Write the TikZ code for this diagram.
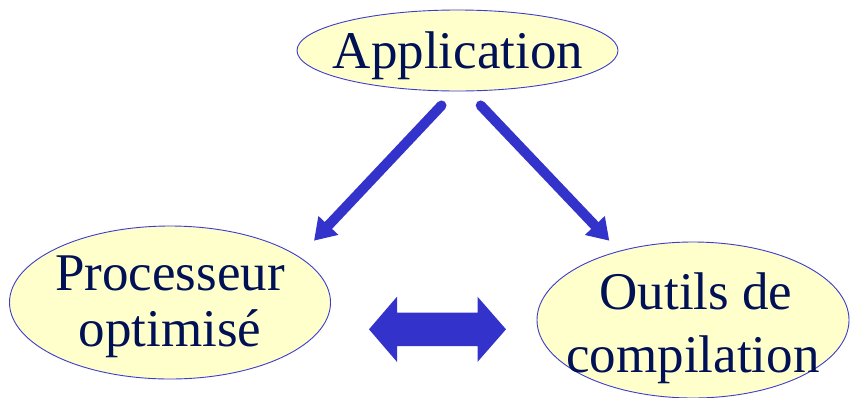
\documentclass[tikz,border=0pt]{standalone}
\usepackage{fontspec}
\setmainfont{Liberation Serif}
\usetikzlibrary{shapes.geometric,arrows.meta,calc}
\definecolor{ovalfill}{RGB}{255,255,204}
\definecolor{ovalline}{RGB}{60,60,205}
\definecolor{arrowblue}{RGB}{51,51,204}
\definecolor{navytext}{RGB}{0,17,85}
\begin{document}
\begin{tikzpicture}[x=1pt,y=-1pt,
  oval/.style={ellipse,draw=ovalline,line width=0.9pt,fill=ovalfill,inner sep=0pt},
  lbl/.style={text=navytext,font=\fontsize{53}{56}\selectfont,inner sep=0pt,align=center},
  flow/.style={draw=arrowblue,line width=10pt,line cap=round,
    -{Triangle[length=21pt,width=26pt]}},
]
\useasboundingbox (0,0) rectangle (850,397);
\fill[white] (0,0) rectangle (850,397);

% the three ovals
\node[oval,minimum width=321,minimum height=81] (app) at (457.5,50.5) {};
\node[oval,minimum width=321,minimum height=153] (proc) at (170,302.5) {};
\node[oval,minimum width=312,minimum height=156] (outl) at (693,320) {};

% their texts
\node[lbl,anchor=base] (appt) at (458,68) {Application};
\node[lbl,anchor=base] (proct1) at (170,290) {Processeur};
\node[lbl,anchor=base] (proct2) at (170,346) {optimisé};
\node[lbl,anchor=base] (outt1) at (696,309) {Outils de};
\node[lbl,anchor=base] (outt2) at (693,372) {compilation};

% arrows from the application down to both sides
\draw[flow] ($(app.south)+(-16,14)$) -- ($(proc.center)+(144,-61.8)$);
\draw[flow] ($(app.south)+(23.2,14)$) -- ($(outl.center)+(-83.7,-79.3)$);

% double arrow between processor and compiler tools
\coordinate (dbl) at (437.5,329.3);
\fill[arrowblue] ($(dbl)+(-68.5,0)$) -- ($(dbl)+(-40.5,-32.6)$) -- ($(dbl)+(-40.5,-16.7)$)
  -- ($(dbl)+(40,-16.7)$) -- ($(dbl)+(40,-32.6)$) -- ($(dbl)+(68.5,0)$)
  -- ($(dbl)+(40,32.6)$) -- ($(dbl)+(40,16.7)$) -- ($(dbl)+(-40.5,16.7)$)
  -- ($(dbl)+(-40.5,32.6)$) -- cycle;
\end{tikzpicture}
\end{document}
